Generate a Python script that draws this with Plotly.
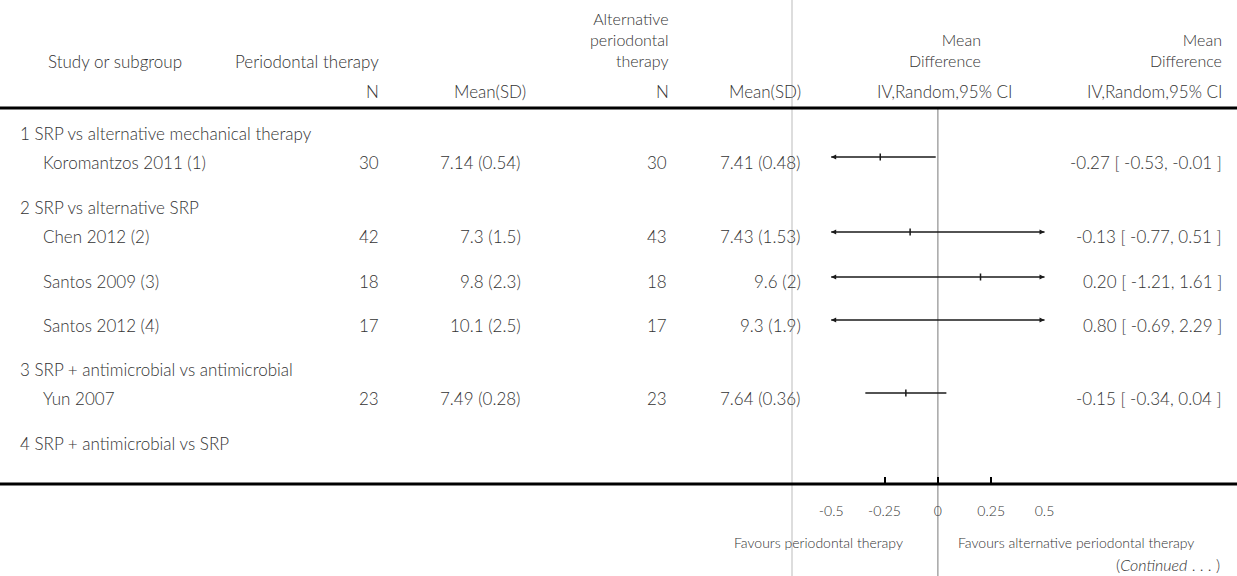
import plotly.graph_objects as go

# ---- data -------------------------------------------------------------
subgroups = [
    "1 SRP vs alternative mechanical therapy",
    "2 SRP vs alternative SRP",
    "3 SRP + antimicrobial vs antimicrobial",
    "4 SRP + antimicrobial vs SRP",
]
studies = ["Koromantzos 2011 (1)", "Chen 2012 (2)", "Santos 2009 (3)",
           "Santos 2012 (4)", "Yun 2007"]
study_subgroup = [0, 1, 1, 1, 2]

n_perio = [30, 42, 18, 17, 23]
mean_perio = [7.14, 7.3, 9.8, 10.1, 7.49]
sd_perio = [0.54, 1.5, 2.3, 2.5, 0.28]

n_alt = [30, 43, 18, 17, 23]
mean_alt = [7.41, 7.43, 9.6, 9.3, 7.64]
sd_alt = [0.48, 1.53, 2, 1.9, 0.36]

md = [-0.27, -0.13, 0.20, 0.80, -0.15]
ci_lo = [-0.53, -0.77, -1.21, -0.69, -0.34]
ci_hi = [-0.01, 0.51, 1.61, 2.29, 0.04]

axis_ticks = [-0.5, -0.25, 0, 0.25, 0.5]
axis_ticktext = ["-0.5", "-0.25", "0", "0.25", "0.5"]
x_limits = [-0.5, 0.5]

# ---- layout geometry (pixels) -----------------------------------------
W, H = 1237, 576
FONT = "Lato"
WEIGHT = 300
TXT = "#333333"
BASE = 17
subgroup_rows = [133, 207, 369, 443]
study_rows = [162, 237, 282, 325, 398]
header_rule_y = 108
axis_y = 484
divider_x = 792
forest_left_px, forest_right_px = 831.2, 1044.5

col_n1, col_m1, col_n2, col_m2, col_ci = 380, 522, 668, 801.5, 1223


def px(x):
    return x / W


def py(y):
    return 1 - y / H


fig = go.Figure()

# confidence intervals (clipped by the axis range)
for i in range(len(studies)):
    yl = study_rows[i] - 5
    fig.add_trace(go.Scatter(
        x=[ci_lo[i], ci_hi[i]], y=[yl, yl], mode="lines",
        line=dict(color="#1a1a1a", width=1.4),
        hoverinfo="skip", showlegend=False))
    fig.add_trace(go.Scatter(
        x=[md[i]], y=[yl], mode="markers",
        marker=dict(symbol="line-ns", size=5,
                    line=dict(color="#1a1a1a", width=1.5)),
        showlegend=False, cliponaxis=False))
    if ci_lo[i] < x_limits[0]:
        fig.add_trace(go.Scatter(
            x=[x_limits[0]], y=[yl], mode="markers",
            marker=dict(symbol="arrow-left", size=5, color="#1a1a1a"),
            showlegend=False, cliponaxis=False))
    if ci_hi[i] > x_limits[1]:
        fig.add_trace(go.Scatter(
            x=[x_limits[1]], y=[yl], mode="markers",
            marker=dict(symbol="arrow-right", size=5, color="#1a1a1a"),
            showlegend=False, cliponaxis=False))

ann = []


def text(x, y, s, anchor="right", size=BASE, color=TXT, yanchor="middle"):
    ann.append(dict(x=px(x), y=py(y), xref="paper", yref="paper",
                    text=s, showarrow=False, xanchor=anchor,
                    yanchor=yanchor, borderpad=0, align=anchor,
                    font=dict(family=FONT, size=size, color=color,
                              weight=WEIGHT)))


# header (stacked titles are bottom-aligned on the same baseline row)
HEAD = 16
text(47, 62, "Study or subgroup", "left")
text(col_n1, 62, "Periodontal therapy")
text(col_n1, 91, "N")
text(527, 91, "Mean(SD)")
text(670, 71, "Alternative<br>periodontal<br>therapy", size=HEAD,
     yanchor="bottom")
text(670, 91, "N")
text(col_m2, 91, "Mean(SD)")
text(982, 71, "Mean<br>Difference", size=HEAD, yanchor="bottom")
text(1013, 91, "IV,Random,95% CI")
text(col_ci, 71, "Mean<br>Difference", size=HEAD, yanchor="bottom")
text(col_ci, 91, "IV,Random,95% CI")

# subgroup labels
for label, y in zip(subgroups, subgroup_rows):
    text(19, y, label, "left")

# study rows
for i, name in enumerate(studies):
    y = study_rows[i]
    text(42, y, name, "left")
    text(col_n1, y, str(n_perio[i]))
    text(col_m1, y, f"{mean_perio[i]:g} ({sd_perio[i]:g})")
    text(col_n2, y, str(n_alt[i]))
    text(col_m2, y, f"{mean_alt[i]:g} ({sd_alt[i]:g})")
    text(col_ci, y, f"{md[i]:.2f} [ {ci_lo[i]:.2f}, {ci_hi[i]:.2f} ]")

# footer
text(904, 542, "Favours periodontal therapy", "right", size=14)
text(957, 542, "Favours alternative periodontal therapy", "left", size=14)
text(1221, 575, "(<i>Continued</i> . . . )", "right", size=16,
     yanchor="bottom")

shapes = [
    # column divider
    dict(type="line", xref="paper", yref="paper", x0=px(divider_x),
         x1=px(divider_x), y0=0, y1=1, line=dict(color="#dddddd", width=2),
         layer="below"),
    # line of no effect
    dict(type="line", xref="x", yref="paper", x0=0, x1=0, y0=0,
         y1=py(header_rule_y), line=dict(color="#a6a6a6", width=1.5),
         layer="below"),
    # header rule
    dict(type="line", xref="paper", yref="paper", x0=0, x1=1,
         y0=py(header_rule_y), y1=py(header_rule_y),
         line=dict(color="black", width=3)),
    # axis rule
    dict(type="line", xref="paper", yref="paper", x0=0, x1=1,
         y0=py(axis_y), y1=py(axis_y), line=dict(color="black", width=3)),
]

fig.update_layout(
    width=W, height=H,
    margin=dict(l=0, r=0, t=0, b=0, pad=0, autoexpand=False),
    paper_bgcolor="white", plot_bgcolor="rgba(0,0,0,0)",
    showlegend=False, annotations=ann, shapes=shapes,
    xaxis=dict(domain=[px(forest_left_px), px(forest_right_px)],
               range=x_limits, tickvals=axis_ticks, ticktext=axis_ticktext,
               ticks="inside", ticklen=7, tickwidth=2, tickcolor="black",
               showline=False, showgrid=False, zeroline=False,
               automargin=False, ticklabelstandoff=17,
               tickfont=dict(family=FONT, size=14, color=TXT, weight=WEIGHT),
               fixedrange=True),
    yaxis=dict(domain=[py(axis_y), 1], range=[axis_y, 0], visible=False,
               automargin=False, fixedrange=True),
)

fig.write_html(
    "out.html",
    post_script="document.body.style.margin='0';"
                "document.body.style.overflow='hidden';",
)
